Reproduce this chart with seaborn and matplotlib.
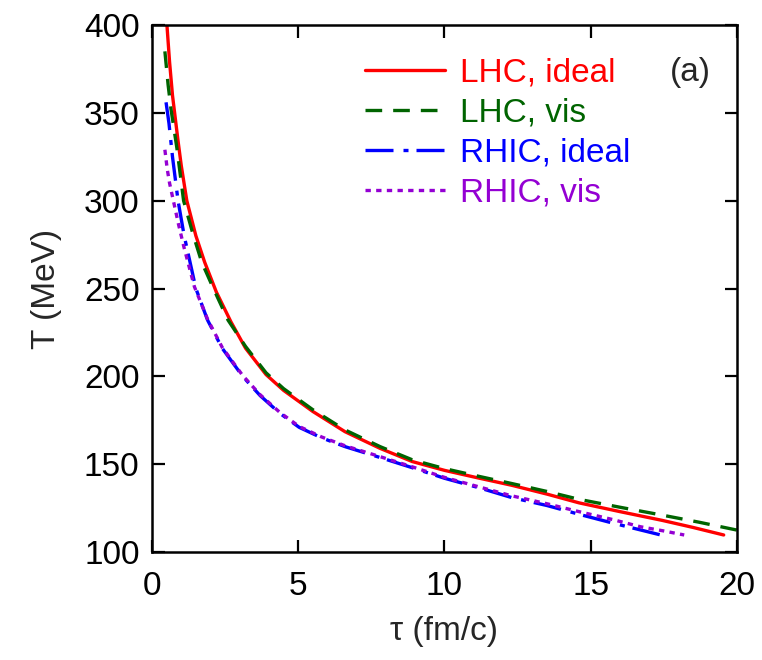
import numpy as np
import pandas as pd
import matplotlib
matplotlib.use('Agg')
import matplotlib.pyplot as plt
import seaborn as sns

# Values
tau_lhc_ideal = [0.51, 0.6, 0.7, 0.89, 1.0, 1.19, 1.5, 1.8, 2.2, 2.7, 3.2, 3.9, 4.5, 5.5, 6.6, 7.8,
                 8.9, 10, 11.2, 12.3, 13.5, 14.6, 16, 17.45, 18.5, 19.55]
T_lhc_ideal = [400, 379, 360, 334, 320, 300, 280, 265, 248, 231, 216, 201, 192, 180, 168.5, 159,
               151.5, 146.5, 142, 138, 133, 128, 123, 118, 114, 109.7]

tau_lhc_vis = [0.44, 0.55, 0.65, 0.85, 1.08, 1.4, 1.7, 2.1, 2.6, 3.2, 3.9, 4.5, 5.5, 6.6, 7.8,
               8.9, 10, 11.2, 12.3, 13.5, 14.6, 16, 17.45, 18.7, 20]
T_lhc_vis = [385, 366, 352, 330, 300, 281, 265, 250, 232, 217, 202, 193, 181, 169.5, 160,
             152.5, 147.5, 143, 139, 134.5, 130, 125.5, 121, 117, 112.5]

tau_rhic_ideal = [0.48, 0.58, 0.7, 0.89, 1.1, 1.5, 1.9, 2.4, 3.1, 3.7, 4.37, 5.03, 5.8, 6.6, 7.76,
                  8.9, 10, 11.2, 12.3, 13.5, 14.6, 15.75, 16.6, 17.4]
T_rhic_ideal = [356, 344, 325, 300, 280, 250, 232, 216, 200, 189, 179, 171, 165, 160, 154,
                148, 142, 136.5, 131, 126.5, 121.5, 116.5, 113, 109.7]

tau_rhic_vis = [0.44, 0.52, 0.6, 0.73, 0.9, 1.1, 1.45, 1.9, 2.4, 3.1, 3.7, 4.37, 5.03, 5.8, 6.6,
                7.76, 8.9, 10, 11.2, 12.3, 13.5, 14.6, 15.75, 16.7, 17.5, 18.2]
T_rhic_vis = [329, 318, 310, 300, 287, 273, 251, 232.5, 216.5, 200.5, 189.5, 179.5, 171.5, 165.5, 160.5,
              154.5, 148.5, 142.5, 137, 132, 127.5, 123, 118.5, 114.4, 112, 109.7]

labels = ['LHC, ideal', 'LHC, vis', 'RHIC, ideal', 'RHIC, vis']
x_ticks = [0, 5, 10, 15, 20]
y_ticks = [100, 150, 200, 250, 300, 350, 400]

series = [
    (tau_lhc_ideal, T_lhc_ideal, '#ff0000', '-'),
    (tau_lhc_vis, T_lhc_vis, '#006400', (0, (5, 3.3))),
    (tau_rhic_ideal, T_rhic_ideal, '#0000ff', (0, (8.4, 3, 1.5, 2.4))),
    (tau_rhic_vis, T_rhic_vis, '#9400d3', (0, (1.6, 1.6))),
]

sns.set_theme(style='ticks')
plt.rcParams['font.family'] = ['Liberation Sans', 'DejaVu Sans']
plt.rcParams['xtick.direction'] = 'in'
plt.rcParams['ytick.direction'] = 'in'

fig = plt.figure(figsize=(7.62, 6.60), dpi=100)
ax = fig.add_axes([0.1995, 0.1636, 0.7675, 0.7985])

for (tau, T, color, ls), label in zip(series, labels):
    df = pd.DataFrame({'tau': tau, 'T': T})
    sns.lineplot(data=df, x='tau', y='T', ax=ax, color=color, linestyle=ls,
                 linewidth=2.4, estimator=None, sort=False, label=label)

ax.set_xlim(0, 20)
ax.set_ylim(100, 400)
ax.set_xticks(x_ticks)
ax.set_yticks(y_ticks)
ax.tick_params(axis='both', which='both', direction='in', length=9, width=1.6,
               top=True, right=True, labelsize=24, colors='black')
ax.tick_params(axis='x', pad=14)
ax.tick_params(axis='y', pad=9)
for sp in ax.spines.values():
    sp.set_linewidth(1.8)
    sp.set_color('black')

ax.set_xlabel('τ (fm/c)', fontsize=24, labelpad=10)
ax.set_ylabel('T (MeV)', fontsize=24, labelpad=16)

ax.legend(loc='upper left', bbox_to_anchor=(0.336, 0.97), frameon=False, fontsize=24,
          handlelength=2.4, handletextpad=0.45, labelspacing=0.27, borderpad=0,
          labelcolor='linecolor')

ax.text(0.92, 0.91, '(a)', transform=ax.transAxes, fontsize=24, ha='center', va='center')

fig.savefig('out.png', dpi=100)
